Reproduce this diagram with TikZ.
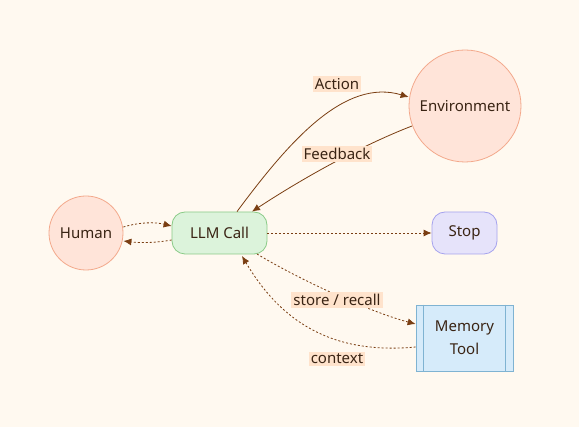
\documentclass[tikz,border=0pt]{standalone}
\usepackage{fontspec}
\setmainfont{Noto Sans}
\usetikzlibrary{arrows.meta,shapes.geometric}
\definecolor{bgc}{HTML}{FFF9F0}
\definecolor{peachfill}{HTML}{FFE4D9}
\definecolor{peachdraw}{HTML}{F3A98C}
\definecolor{greenfill}{HTML}{DCF3DB}
\definecolor{greendraw}{HTML}{8ACB87}
\definecolor{violetfill}{HTML}{E6E3FA}
\definecolor{violetdraw}{HTML}{A5A2EE}
\definecolor{bluefill}{HTML}{D6EBFA}
\definecolor{bluedraw}{HTML}{7FB3D2}
\definecolor{edgec}{HTML}{7A3E12}
\definecolor{txtc}{HTML}{3A2414}
\definecolor{lblfill}{HTML}{FFE3CC}
\tikzset{
  every node/.style={text=txtc, font=\fontsize{15}{18}\selectfont},
  circ/.style={circle, fill=peachfill, draw=peachdraw, line width=0.8pt, inner sep=0pt},
  rbox/.style={rectangle, rounded corners=13pt, line width=0.8pt, minimum width=95pt, minimum height=42pt},
  lbl/.style={fill=lblfill, inner sep=2pt, text=txtc},
  conn/.style={draw=edgec, line width=0.8pt, -{Latex[length=8pt,width=7pt]}},
  dotc/.style={conn, dash pattern=on 2pt off 2pt},
}
\begin{document}
\begin{tikzpicture}[x=1pt,y=-1pt]
\fill[bgc] (0,0) rectangle (579,427);
\useasboundingbox (0,0) rectangle (579,427);

\node[circ, minimum size=74pt] (human) at (86,233) {Human};
\node[rbox, fill=greenfill, draw=greendraw] (llm) at (219.5,233) {LLM Call};
\node[circ, minimum size=112pt] (env) at (465,106) {Environment};
\node[rbox, fill=violetfill, draw=violetdraw, minimum width=65pt] (stop) at (464.5,233) {Stop};
\node[rectangle, fill=bluefill, draw=bluedraw, line width=0.8pt, minimum width=97pt, minimum height=66pt, align=center] (mem) at (464.5,338) {Memory\\[5pt]Tool};
\draw[bluedraw, line width=0.8pt] ([xshift=8pt]mem.north west) -- ([xshift=8pt]mem.south west);
\draw[bluedraw, line width=0.8pt] ([xshift=-8pt]mem.north east) -- ([xshift=-8pt]mem.south east);

% Human <-> LLM
\draw[dotc] (human.east |- 0,227) .. controls (140,222) and (155,222) .. (llm.west |- 0,226);
\draw[dotc] (llm.west |- 0,240) .. controls (155,243) and (140,243) .. (human.east |- 0,241);

% LLM -> Environment (Action)
\draw[conn] (llm.north -| 237,0) .. controls (290,140) and (345,78) .. (env.west |- 0,97);
% Environment -> LLM (Feedback)
\draw[conn] (412,126) .. controls (360,146) and (300,180) .. (llm.north -| 252,0);

% LLM -> Stop
\draw[dotc] (llm.east) -- (stop.west);

% LLM -> Memory (store / recall)
\draw[dotc] (257,254) .. controls (300,280) and (370,312) .. (mem.west |- 0,324);
% Memory -> LLM (context)
\draw[dotc] (mem.west |- 0,347) .. controls (330,355) and (280,320) .. (242,256);

\node[lbl] (lact) at (337,84) {Action};
\node[lbl] (lfb) at (337,154) {Feedback};
\node[lbl] (lsr) at (337,300) {store / recall};
\node[lbl] (lctx) at (337,359) {context};
\end{tikzpicture}
\end{document}
